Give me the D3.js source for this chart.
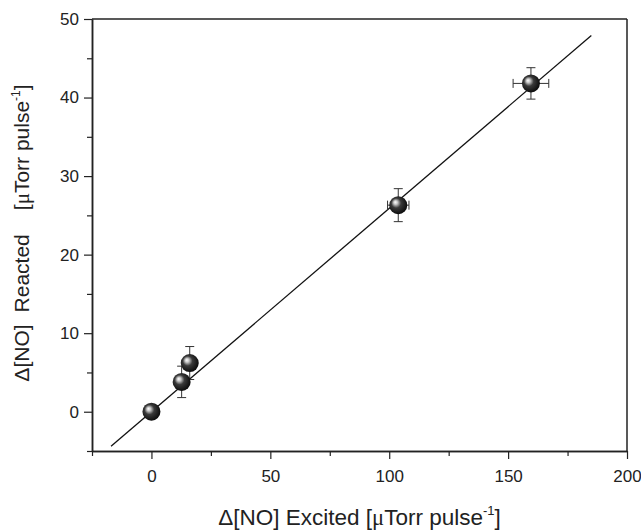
<!DOCTYPE html>
<html>
<head>
<meta charset="utf-8">
<script src="https://cdn.jsdelivr.net/npm/d3@7"></script>
<style>
  body { margin: 0; background: #fff; }
  text { font-family: "Liberation Sans", Arial, sans-serif; fill: #222; }
</style>
</head>
<body>
<div id="chart"></div>
<script>
// measured points
let excited = [0, 12.7, 16.1, 103.8, 159.6];
let reacted = [0, 3.8, 6.2, 26.3, 41.8];
let xErr = [0, 0, 0, 4.5, 7.5];
let yErr = [0, 2.0, 2.1, 2.1, 2.0];

// fitted line end points
let fitX = [-17, 185];
let fitY = [-4.4, 47.9];

let xTicks = [0, 50, 100, 150, 200];
let xMinor = [-25, 25, 75, 125, 175];
let yTicks = [0, 10, 20, 30, 40, 50];
let yMinor = [-5, 5, 15, 25, 35, 45];

let width = 641, height = 532;
let margin = {top: 19, right: 14, bottom: 81, left: 92};
let plot_w = width - margin.left - margin.right,
    plot_h = height - margin.top - margin.bottom;

let svg = d3.select("#chart")
    .append("svg")
    .attr("width", width)
    .attr("height", height);

let defs = svg.append("defs");
let grad = defs.append("radialGradient")
    .attr("id", "ball")
    .attr("cx", "45%").attr("cy", "45%").attr("r", "60%")
    .attr("fx", "33%").attr("fy", "33%");
grad.append("stop").attr("offset", "0%").attr("stop-color", "#ffffff");
grad.append("stop").attr("offset", "18%").attr("stop-color", "#c8c8c8");
grad.append("stop").attr("offset", "45%").attr("stop-color", "#3a3a3a");
grad.append("stop").attr("offset", "100%").attr("stop-color", "#050505");

let g = svg.append("g")
    .attr("transform", `translate(${margin.left}, ${margin.top})`);

let x = d3.scaleLinear().domain([-25, 200]).range([0, plot_w]);
let y = d3.scaleLinear().domain([-5, 50]).range([plot_h, 0]);

// frame (top and right lines)
g.append("line").attr("x1", 0).attr("x2", plot_w).attr("y1", 0).attr("y2", 0)
    .attr("stroke", "#222").attr("stroke-width", 1.5);
g.append("line").attr("x1", plot_w).attr("x2", plot_w).attr("y1", 0).attr("y2", plot_h)
    .attr("stroke", "#222").attr("stroke-width", 1.5);

// x axis
g.append("g")
    .attr("transform", `translate(0, ${plot_h})`)
    .call(d3.axisBottom(x).tickValues(xTicks).tickSize(8).tickPadding(11).tickSizeOuter(0));
g.append("g")
    .attr("transform", `translate(0, ${plot_h})`)
    .call(d3.axisBottom(x).tickValues(xMinor).tickSize(5).tickFormat("").tickSizeOuter(0));

// y axis
g.append("g")
    .call(d3.axisLeft(y).tickValues(yTicks).tickSize(8).tickPadding(5).tickSizeOuter(0));
g.append("g")
    .call(d3.axisLeft(y).tickValues(yMinor).tickSize(5).tickFormat("").tickSizeOuter(0));

g.selectAll(".domain").attr("stroke", "#222").attr("stroke-width", 1.5);
g.selectAll(".tick line").attr("stroke", "#222").attr("stroke-width", 1.2);
g.selectAll(".tick text")
    .style("font-family", '"Liberation Sans", Arial, sans-serif')
    .style("font-size", "17px")
    .attr("fill", "#222");

// fit line
let fit = fitX.map(function(d, i) { return [d, fitY[i]]; });
g.append("path")
    .datum(fit)
    .attr("fill", "none")
    .attr("stroke", "#111")
    .attr("stroke-width", 1.3)
    .attr("d", d3.line().x(function(d) { return x(d[0]); }).y(function(d) { return y(d[1]); }));

let pts = excited.map(function(d, i) {
    return {x: d, y: reacted[i], ex: xErr[i], ey: yErr[i]};
});

// error bars
let cap = 4.5;
let err = g.append("g").attr("stroke", "#333").attr("stroke-width", 1);
pts.forEach(function(p) {
    if (p.ey > 0) {
        err.append("line").attr("x1", x(p.x)).attr("x2", x(p.x))
            .attr("y1", y(p.y - p.ey)).attr("y2", y(p.y + p.ey));
        [p.y - p.ey, p.y + p.ey].forEach(function(v) {
            err.append("line").attr("x1", x(p.x) - cap).attr("x2", x(p.x) + cap)
                .attr("y1", y(v)).attr("y2", y(v));
        });
    }
    if (p.ex > 0) {
        err.append("line").attr("x1", x(p.x - p.ex)).attr("x2", x(p.x + p.ex))
            .attr("y1", y(p.y)).attr("y2", y(p.y));
        [p.x - p.ex, p.x + p.ex].forEach(function(v) {
            err.append("line").attr("x1", x(v)).attr("x2", x(v))
                .attr("y1", y(p.y) - cap).attr("y2", y(p.y) + cap);
        });
    }
});

// spheres
g.selectAll("circle.pt")
    .data(pts)
    .enter()
    .append("circle")
    .attr("class", "pt")
    .attr("cx", function(d) { return x(d.x); })
    .attr("cy", function(d) { return y(d.y); })
    .attr("r", 9)
    .attr("fill", "url(#ball)");

// x axis title
let xt = svg.append("text")
    .attr("x", margin.left + plot_w / 2)
    .attr("y", 525)
    .style("text-anchor", "middle")
    .style("font-size", "22.5px");
xt.append("tspan").text("\u0394[NO] Excited [");
xt.append("tspan").style("font-family", '"Liberation Serif", serif').text("\u03bc");
xt.append("tspan").text("Torr pulse");
xt.append("tspan").attr("dy", -10).style("font-size", "13px").text("-1");
xt.append("tspan").attr("dy", 10).text("]");

// y axis title
let yt = svg.append("text")
    .attr("transform", `translate(29, 233) rotate(-90)`)
    .style("text-anchor", "middle")
    .style("font-size", "21px");
yt.append("tspan").text("\u0394[NO]");
yt.append("tspan").attr("dx", 12).text("Reacted");
yt.append("tspan").attr("dx", 24).text("[");
yt.append("tspan").style("font-family", '"Liberation Serif", serif').text("\u03bc");
yt.append("tspan").text("Torr pulse");
yt.append("tspan").attr("dy", -9).style("font-size", "12px").text("-1");
yt.append("tspan").attr("dy", 9).text("]");
</script>
</body>
</html>
